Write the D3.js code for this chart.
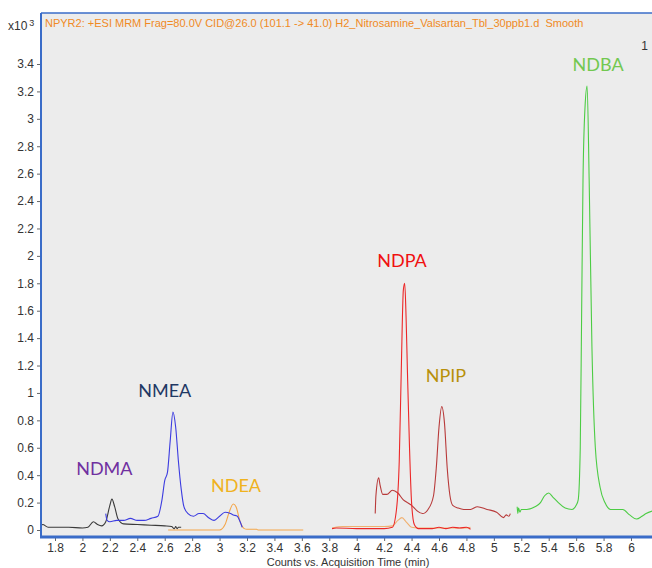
<!DOCTYPE html>
<html>
<head>
<meta charset="utf-8">
<title>chromatogram</title>
<style>
  body { margin:0; background:#fff; }
  svg text { font-family: "Liberation Sans", Arial, sans-serif; }
</style>
</head>
<body>
<div id="chart"></div>
<script src="https://cdn.jsdelivr.net/npm/d3@7"></script>
<script>
// tick labels
var xTicks = [1.8,2,2.2,2.4,2.6,2.8,3,3.2,3.4,3.6,3.8,4,4.2,4.4,4.6,4.8,5,5.2,5.4,5.6,5.8,6];
var yTicks = [0,0.2,0.4,0.6,0.8,1,1.2,1.4,1.6,1.8,2,2.2,2.4,2.6,2.8,3,3.2,3.4];

// traces (time in min, counts x10^3)
var ndmaT = [1.698,1.71,1.75,1.9,2.0,2.04,2.08,2.11,2.14,2.17,2.2,2.215,2.235,2.26,2.3,2.4,2.5,2.6,2.65,2.67,2.68,2.69,2.70,2.72];
var ndmaV = [0.03,0.04,0.02,0.02,0.015,0.02,0.06,0.04,0.03,0.06,0.18,0.225,0.17,0.08,0.045,0.04,0.035,0.03,0.025,0.01,0.025,0.01,0.02,0.02];

var nmeaT = [2.17,2.18,2.2,2.25,2.3,2.35,2.4,2.45,2.5,2.55,2.58,2.6,2.62,2.64,2.66,2.68,2.70,2.72,2.74,2.77,2.81,2.85,2.88,2.92,2.96,3.0,3.04,3.08,3.1,3.13,3.15,3.165];
var nmeaV = [0.12,0.07,0.06,0.07,0.07,0.085,0.07,0.07,0.085,0.1,0.22,0.36,0.42,0.65,0.86,0.75,0.5,0.3,0.17,0.12,0.1,0.12,0.12,0.09,0.07,0.1,0.13,0.12,0.11,0.1,0.06,0.02];

var ndeaT = [2.625,2.8,3.0,3.04,3.07,3.1,3.12,3.15,3.18,3.2,3.27,3.28,3.61];
var ndeaV = [0,0,0,0.04,0.13,0.19,0.17,0.06,0.01,0.005,0.005,0,0];

var ndpaT = [3.82,3.85,4.0,4.2,4.26,4.29,4.31,4.325,4.34,4.35,4.36,4.37,4.385,4.40,4.42,4.45,4.55,4.6,4.65,4.7,4.75,4.8,4.83];
var ndpaV = [0.01,0.015,0.01,0.01,0.02,0.15,0.5,1.17,1.75,1.80,1.55,1.15,0.6,0.2,0.04,0.01,0.01,0.02,0.01,0.02,0.015,0.02,0.005];

var paleT = [3.82,3.9,4.0,4.1,4.2,4.26,4.3,4.33,4.36,4.4,4.45,4.6,4.8,4.83];
var paleV = [0.015,0.025,0.025,0.025,0.025,0.03,0.07,0.09,0.06,0.02,0.015,0.015,0.015,0.02];

var npipT = [4.135,4.14,4.16,4.17,4.19,4.22,4.26,4.3,4.34,4.37,4.4,4.44,4.48,4.52,4.56,4.58,4.60,4.62,4.64,4.66,4.68,4.70,4.74,4.78,4.83,4.88,4.95,5.02,5.07,5.09,5.11,5.12];
var npipV = [0.12,0.25,0.38,0.33,0.26,0.26,0.29,0.27,0.22,0.2,0.18,0.14,0.12,0.15,0.25,0.45,0.75,0.9,0.78,0.45,0.25,0.18,0.16,0.15,0.15,0.17,0.15,0.13,0.09,0.11,0.1,0.12];

var ndbaT = [5.17,5.175,5.18,5.19,5.2,5.24,5.3,5.34,5.37,5.40,5.43,5.47,5.52,5.57,5.6,5.615,5.63,5.64,5.65,5.665,5.68,5.695,5.715,5.74,5.775,5.81,5.85,5.9,5.94,5.99,6.04,6.08,6.11,6.16];
var ndbaV = [0.17,0.12,0.16,0.13,0.15,0.15,0.17,0.2,0.25,0.27,0.24,0.2,0.16,0.15,0.18,0.22,0.6,1.58,2.55,3.09,3.24,2.55,1.34,0.6,0.31,0.2,0.15,0.15,0.15,0.11,0.08,0.1,0.12,0.14];

var traces = [
  {t: ndeaT, v: ndeaV, color: "#f4a64a"},
  {t: paleT, v: paleV, color: "#f0b070"},
  {t: ndmaT, v: ndmaV, color: "#3a3a3a"},
  {t: nmeaT, v: nmeaV, color: "#3c3ce0"},
  {t: npipT, v: npipV, color: "#b83a3a"},
  {t: ndpaT, v: ndpaV, color: "#ec2828"},
  {t: ndbaT, v: ndbaV, color: "#4ccc44"}
];

var labels = ["NDMA","NMEA","NDEA","NDPA","NPIP","NDBA"];
var labelT = [2.16, 2.60, 3.12, 4.33, 4.65, 5.76];
var labelV = [0.40, 0.97, 0.28, 1.92, 1.08, 3.35];
var labelColors = ["#7030a0","#1f3864","#f0b21e","#f01010","#b8900a","#72c850"];

var W = 652, H = 568;
var plotLeft = 41, plotTop = 13, plotBottom = 537;

var x = d3.scaleLinear().domain([1.8, 6]).range([55, 631]);
var y = d3.scaleLinear().domain([0, 3.4]).range([530, 64]);

var svg = d3.select("#chart").append("svg").attr("width", W).attr("height", H);

svg.append("rect")
  .attr("x", plotLeft).attr("y", plotTop)
  .attr("width", W - plotLeft + 5).attr("height", plotBottom - plotTop)
  .attr("fill", "#ececec");

svg.append("clipPath").attr("id", "clip").append("rect")
  .attr("x", plotLeft + 1).attr("y", plotTop + 1)
  .attr("width", W - plotLeft).attr("height", plotBottom - plotTop - 2);

var line = d3.line()
  .x(function(d){ return x(d[0]); })
  .y(function(d){ return y(d[1]); })
  .curve(d3.curveMonotoneX);

var g = svg.append("g").attr("clip-path", "url(#clip)");
traces.forEach(function(tr){
  var pts = tr.t.map(function(t, i){ return [t, tr.v[i]]; });
  g.append("path")
    .attr("d", line(pts))
    .attr("fill", "none")
    .attr("stroke", tr.color)
    .attr("stroke-width", 1.1);
});

// axes
var xAxis = d3.axisBottom(x).tickValues(xTicks).tickSize(4).tickPadding(2).tickFormat(d3.format("~g"));
var gx = svg.append("g").attr("transform", "translate(0," + plotBottom + ")").call(xAxis);
var yAxis = d3.axisLeft(y).tickValues(yTicks).tickSize(4).tickFormat(d3.format("~g"));
var gy = svg.append("g").attr("transform", "translate(" + plotLeft + ",0)").call(yAxis);
[gx, gy].forEach(function(a){
  a.select(".domain").remove();
  a.selectAll(".tick line").attr("stroke", "#666");
  a.selectAll(".tick text").attr("fill", "#333").style("font-size", "12px")
    .style("font-family", "'Liberation Sans', Arial, sans-serif");
});
gx.selectAll(".tick text").attr("dy", "0.75em");

// frame
svg.append("line").attr("x1", plotLeft).attr("x2", W).attr("y1", plotTop).attr("y2", plotTop)
  .attr("stroke", "#3a6cc8").attr("stroke-width", 1.5);
svg.append("line").attr("x1", plotLeft).attr("x2", plotLeft).attr("y1", plotTop).attr("y2", plotBottom + 1)
  .attr("stroke", "#3a6cc8").attr("stroke-width", 2);
svg.append("line").attr("x1", plotLeft - 1).attr("x2", W).attr("y1", plotBottom).attr("y2", plotBottom)
  .attr("stroke", "#3a6cc8").attr("stroke-width", 3);

// title
svg.append("text").attr("x", 45).attr("y", 27)
  .attr("fill", "#f08a24").style("font-size", "11px").style("white-space", "pre")
  .text("NPYR2: +ESI MRM Frag=80.0V CID@26.0 (101.1 -> 41.0) H2_Nitrosamine_Valsartan_Tbl_30ppb1.d  Smooth");

// x10^3
var ex = svg.append("text").attr("x", 8).attr("y", 30).attr("fill", "#333").style("font-size", "12px");
ex.append("tspan").text("x10");
ex.append("tspan").attr("dx", 2).attr("dy", -4).style("font-size", "9px").text("3");

svg.append("text").attr("x", 648).attr("y", 50).attr("text-anchor", "end")
  .attr("fill", "#333").style("font-size", "12px").text("1");

svg.append("text").attr("x", 348).attr("y", 566).attr("text-anchor", "middle")
  .attr("fill", "#333").style("font-size", "11px")
  .text("Counts vs. Acquisition Time (min)");

// compound labels
labels.forEach(function(l, i){
  svg.append("text")
    .attr("x", x(labelT[i])).attr("y", y(labelV[i]))
    .attr("text-anchor", "middle")
    .attr("fill", labelColors[i])
    .style("font-family", "Lato, 'Open Sans', sans-serif")
    .style("font-size", "18px")
    .text(l);
});
</script>
</body>
</html>
